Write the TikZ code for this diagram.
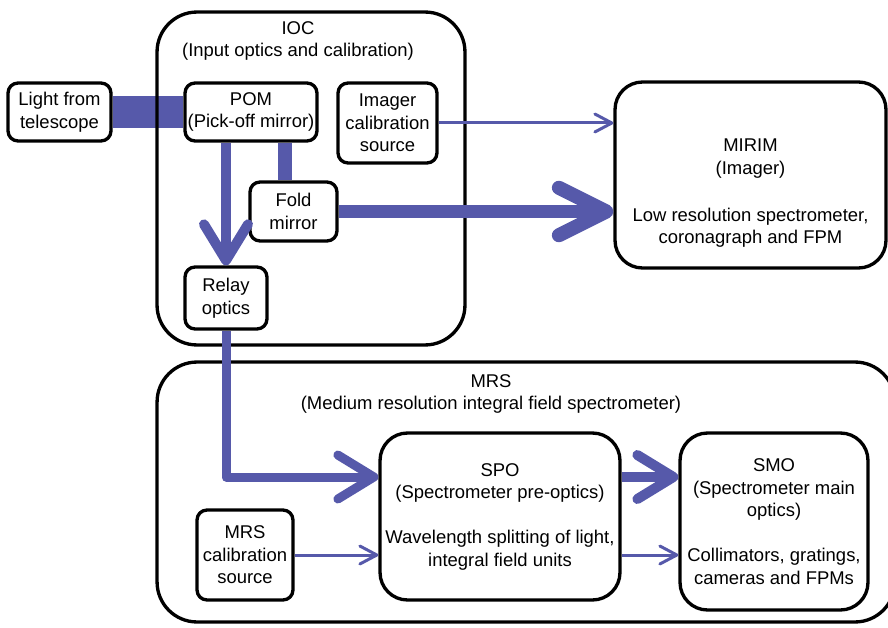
\documentclass[tikz,border=0pt]{standalone}
\usepackage{fontspec}
\setmainfont{Liberation Sans}
\usetikzlibrary{arrows.meta}
\definecolor{beam}{RGB}{86,89,170}
\tikzset{
	box/.style={draw, rounded corners=0.2cm, line width=1.9pt, align=center, inner sep=0pt, font=\fontsize{10.5}{12.8}\selectfont},
	midbox/.style={box, rounded corners=0.55cm},
	bigbox/.style={box, rounded corners=0.8cm},
	txt/.style={align=center, inner sep=0pt, font=\fontsize{10.5}{12.8}\selectfont},
	slim/.style={draw=beam, line width=0.06cm, -{Straight Barb[length=0.34cm, width=0.36cm, round]}},
	wide/.style={draw=beam, line width=0.2cm, -{Straight Barb[length=0.72cm, width=0.88cm, round]}},
	huge/.style={draw=beam, line width=0.28cm, -{Straight Barb[length=0.95cm, width=0.95cm, round]}},
	stub/.style={draw=beam, line width=0.29cm}
}

\begin{document}
\begin{tikzpicture}[x=0.02cm, y=-0.02cm, line join=round]
		\useasboundingbox (0,0) rectangle (888,628);
		\clip (0,0) rectangle (888,628);
		\node[box, minimum width=2.06cm, minimum height=1.16cm] (light) at (59.5,112) {Light from\\telescope};
		\node[box, minimum width=2.64cm, minimum height=1.16cm] (pom) at (251,112) {POM\\(Pick-off mirror)};
		\node[box, minimum width=1.98cm, minimum height=1.6cm] (imcal) at (387.5,123) {Imager\\calibration\\source};
		\node[box, minimum width=1.74cm, minimum height=1.18cm] (fold) at (293.5,211.5) {Fold\\mirror};
		\node[box, minimum width=1.64cm, minimum height=1.24cm] (relay) at (226,298) {Relay\\optics};
		\node[box, minimum width=1.92cm, minimum height=1.8cm] (mrscal) at (245,555) {MRS\\calibration\\source};
		\node[midbox, minimum width=5.42cm, minimum height=3.72cm] (mirim) at (750.5,175) {};
		\node[txt] (mirimtext) at (750.5,193.5) {MIRIM\\(Imager)\\[0.49cm]Low resolution spectrometer,\\coronagraph and FPM};
		\node[midbox, minimum width=4.8cm, minimum height=3.34cm] (spo) at (500,516.5) {SPO\\(Spectrometer pre-optics)\\[0.45cm]Wavelength splitting of light,\\integral field units};
		\node[midbox, minimum width=3.76cm, minimum height=3.54cm] (smo) at (774,521.5) {SMO\\(Spectrometer main\\optics)\\[0.45cm]Collimators, gratings,\\cameras and FPMs};
		\draw[stub, line width=0.66cm] (light.east) -- (pom.west);
		\node[bigbox, minimum width=6.16cm, minimum height=6.66cm] (ioc) at (311,178.5) {};
		\node[txt] (ioctitle) at (298,41) {IOC\\(Input optics and calibration)};
		\node[bigbox, minimum width=14.76cm, minimum height=5.2cm] (mrs) at (526,492) {};
		\node[txt] (mrstitle) at (491,394) {MRS\\(Medium resolution integral field spectrometer)};
		\coordinate (foldin) at ([xshift=-0.17cm]fold.north);
		\coordinate (spoin) at ([yshift=0.79cm]spo.west);
		\coordinate (spoout) at ([yshift=0.79cm]spo.east);
		\draw[stub] (foldin |- pom.south) -- (foldin);
		\draw[wide] (relay.north |- pom.south) -- (relay.north);
		\draw[huge] (fold.east) -- (fold.east -| mirim.west);
		\draw[slim] (imcal.east) -- (imcal.east -| mirim.west);
		\draw[wide, line width=0.18cm] (relay.south) |- (spoin);
		\draw[wide] (spoout) -- (spoout -| smo.west);
		\draw[slim] (mrscal.east) -- (mrscal.east -| spo.west);
		\draw[slim] (mrscal.east -| spo.east) -- (mrscal.east -| smo.west);
	\end{tikzpicture}
\end{document}
